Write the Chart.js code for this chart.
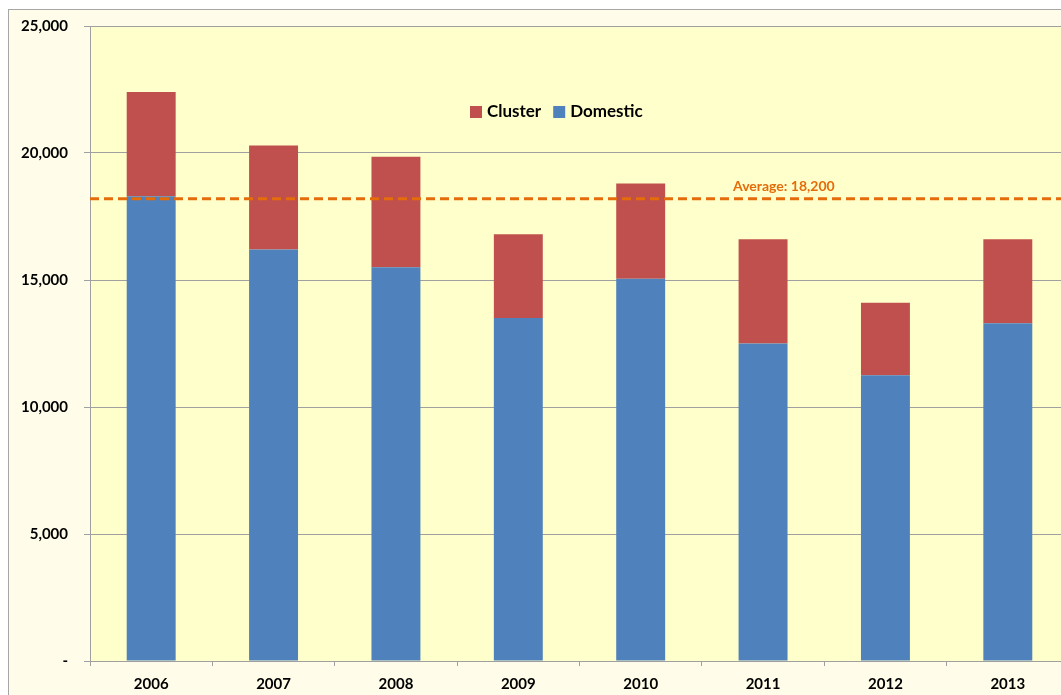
<!DOCTYPE html>
<html>
<head>
<meta charset="utf-8">
<title>Cluster vs Domestic</title>
<script src="https://cdn.jsdelivr.net/npm/chart.js@4.4.0/dist/chart.umd.min.js"></script>
<style>
  html, body {
    margin: 0;
    padding: 0;
    background: #ffffff;
    overflow: hidden;
  }
  #frame {
    position: absolute;
    left: 8px;
    top: 9px;
    width: 1080px;
    height: 710px;
    border: 1px solid #a6a6a6;
    background: #fffde9;
  }
</style>
</head>
<body>
<div id="frame">
  <canvas id="volumeChart"></canvas>
</div>
<script>
/*************************
 DATA
**************************/
const years = ["2006", "2007", "2008", "2009", "2010", "2011", "2012", "2013"];
const domestic = [18300, 16200, 15500, 13500, 15050, 12500, 11250, 13300];
const cluster = [4100, 4100, 4350, 3300, 3750, 4100, 2850, 3300];
const average = 18200;
const yTicks = [0, 5000, 10000, 15000, 20000, 25000];

/*************************
 COLOURS / FONTS
**************************/
const RED = "#c0504d";
const BLUE = "#4f81bd";
const ORANGE = "#e46c0a";
const PLOT_BG = "#ffffcc";
const LINE_GREY = "#a0a0a0";
const FONT = "Lato, 'Open Sans', sans-serif";

function fmt(v) {
  return v === 0 ? "-" : v.toLocaleString("en-US");
}

/*************************
 PLOT BACKGROUND
**************************/
const plotBackground = {
  id: "plotBackground",
  beforeDraw(chart) {
    const { ctx, chartArea: a } = chart;
    ctx.save();
    ctx.fillStyle = PLOT_BG;
    ctx.fillRect(a.left, a.top, a.right - a.left, a.bottom - a.top);
    ctx.restore();
  }
};

/*************************
 AVERAGE LINE
**************************/
const averageLine = {
  id: "averageLine",
  afterDatasetsDraw(chart) {
    const { ctx, chartArea: a, scales } = chart;
    const y = scales.y.getPixelForValue(average);
    ctx.save();
    ctx.strokeStyle = ORANGE;
    ctx.lineWidth = 3;
    ctx.setLineDash([9, 5]);
    ctx.beginPath();
    ctx.moveTo(a.left, y);
    ctx.lineTo(a.right, y);
    ctx.stroke();
    ctx.setLineDash([]);
    ctx.fillStyle = ORANGE;
    ctx.font = "bold 14px " + FONT;
    ctx.textAlign = "left";
    ctx.textBaseline = "middle";
    ctx.fillText("Average: " + fmt(average), a.left + 643, y - 12);
    ctx.restore();
  }
};

/*************************
 LEGEND (inside plot)
**************************/
const innerLegend = {
  id: "innerLegend",
  afterDraw(chart) {
    const { ctx, chartArea: a } = chart;
    const items = chart.data.datasets.slice().reverse();
    let x = a.left + 380;
    const y = a.top + 86;
    ctx.save();
    ctx.font = "bold 17px " + FONT;
    ctx.textBaseline = "middle";
    ctx.textAlign = "left";
    items.forEach(ds => {
      ctx.fillStyle = ds.backgroundColor;
      ctx.fillRect(x, y - 6, 12, 12);
      ctx.fillStyle = "#000000";
      ctx.fillText(ds.label, x + 17, y);
      x += 17 + ctx.measureText(ds.label).width + 12;
    });
    ctx.restore();
  }
};

/*************************
 CHART
**************************/
const ctx = document.getElementById("volumeChart").getContext("2d");
const volumeChart = new Chart(ctx, {
  type: "bar",
  data: {
    labels: years,
    datasets: [
      {
        label: "Domestic",
        data: domestic,
        backgroundColor: BLUE,
        barPercentage: 0.4,
        categoryPercentage: 1
      },
      {
        label: "Cluster",
        data: cluster,
        backgroundColor: RED,
        barPercentage: 0.4,
        categoryPercentage: 1
      }
    ]
  },
  options: {
    responsive: true,
    maintainAspectRatio: false,
    animation: false,
    layout: { padding: { top: 16, right: 20, left: 0, bottom: 0 } },
    plugins: {
      legend: { display: false },
      tooltip: { enabled: false }
    },
    scales: {
      x: {
        stacked: true,
        offset: true,
        border: { color: LINE_GREY, width: 1 },
        grid: {
          drawOnChartArea: false,
          drawTicks: true,
          tickLength: 5,
          color: LINE_GREY,
          offset: true
        },
        ticks: {
          color: "#000000",
          padding: 9,
          font: { family: FONT, size: 15, weight: "bold" }
        },
        afterFit(scale) { scale.height = 59; }
      },
      y: {
        stacked: true,
        min: 0,
        max: 25000,
        afterBuildTicks(scale) {
          scale.ticks = yTicks.map(v => ({ value: v }));
        },
        border: { color: LINE_GREY, width: 1 },
        grid: {
          color: LINE_GREY,
          tickLength: 6,
          drawTicks: true
        },
        ticks: {
          color: "#000000",
          padding: 16,
          font: { family: FONT, size: 15, weight: "bold" },
          callback: v => fmt(v)
        },
        afterFit(scale) {
          scale.width = 81;
          scale.paddingTop = 0;
          scale.paddingBottom = 0;
        }
      }
    }
  },
  plugins: [plotBackground, averageLine, innerLegend]
});
</script>
</body>
</html>
